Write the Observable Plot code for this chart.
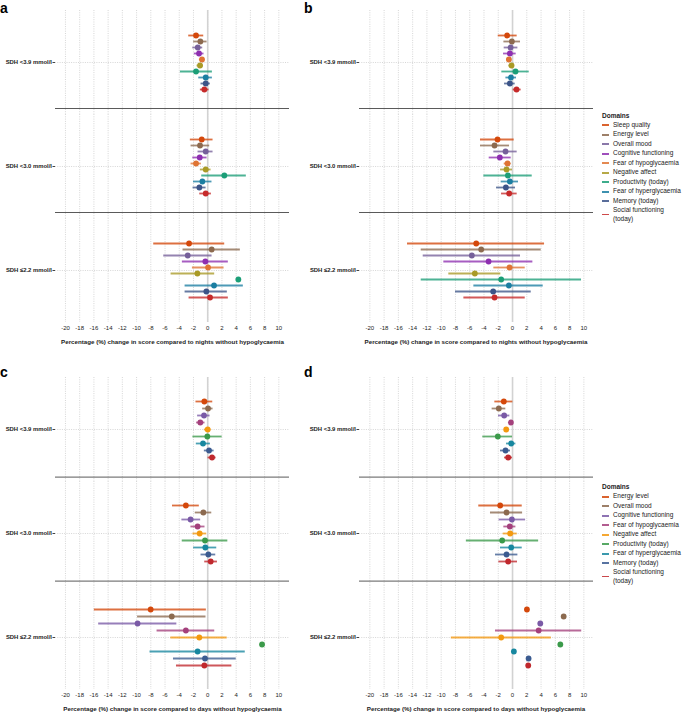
<!DOCTYPE html>
<html>
<head>
<meta charset="utf-8">
<script src="https://cdn.jsdelivr.net/npm/d3@7"></script>
<script src="https://cdn.jsdelivr.net/npm/@observablehq/plot@0.6"></script>
<style>
  html, body { margin: 0; padding: 0; background: #fff; }
  body { font-family: "Liberation Sans", Arial, sans-serif; }
  #root { position: relative; width: 684px; height: 713px; overflow: hidden; }
  .panel { position: absolute; }
  .letter { position: absolute; font-size: 14px; font-weight: bold; line-height: 16px; color: #000; }
  .xtitle { position: absolute; width: 300px; text-align: center; font-size: 6.2px; font-weight: bold; line-height: 8px; color: #222; white-space: nowrap; }
  .legend { position: absolute; font-size: 6.5px; color: #222; }
  .legend .ttl { font-weight: bold; height: 10px; line-height: 10px; }
  .legend .row { display: flex; align-items: center; min-height: 9.5px; line-height: 8.6px; }
  .legend .sw { width: 7px; height: 1.6px; margin-right: 4px; flex: none; opacity: 0.85; }
</style>
</head>
<body>
<div id="root"></div>
<script>
// ---------- data ----------
const sdhLevels = ["SDH <3.9 mmol/l", "SDH <3.0 mmol/l", "SDH \u22642.2 mmol/l"];
const xTicks = [-20, -18, -16, -14, -12, -10, -8, -6, -4, -2, 0, 2, 4, 6, 8, 10];

const domainsNight = ["Sleep quality", "Energy level", "Overall mood", "Cognitive functioning",
  "Fear of hypoglycaemia", "Negative affect", "Productivity (today)", "Fear of hyperglycaemia",
  "Memory (today)", "Social functioning (today)"];
const colorsNight = ["#d4480b", "#8c6a4f", "#76609a", "#8e2fb0", "#df7434", "#a99a26",
  "#1b9e77", "#1b7ea1", "#3c5488", "#c62a2a"];

const domainsDay = ["Energy level", "Overall mood", "Cognitive functioning", "Fear of hypoglycaemia",
  "Negative affect", "Productivity (today)", "Fear of hyperglycaemia", "Memory (today)",
  "Social functioning (today)"];
const colorsDay = ["#d4480b", "#8c6a4f", "#7a5aa6", "#a4407c", "#f3990f", "#3b9a4a",
  "#17879f", "#3b5b90", "#c0282d"];

// panel a (nights, per level rows follow domainsNight)
const aEst = [
  [-1.64, -1.03, -1.40, -1.22, -0.80, -1.08, -1.64, -0.28, -0.28, -0.47],
  [-0.84, -1.08, -0.28, -1.12, -1.64, -0.28, 2.34, -0.75, -1.17, -0.28],
  [-2.62, 0.56, -2.81, -0.33, 0.05, -1.45, 4.31, 0.89, -0.19, 0.33]];
const aLo = [
  [-2.67, -1.97, -2.10, -1.87, -1.17, -1.50, -3.84, -1.26, -0.94, -1.03],
  [-2.44, -2.34, -1.36, -2.10, -2.34, -1.03, -0.84, -2.00, -2.06, -1.12],
  [-7.59, -3.47, -6.18, -3.56, -2.15, -5.15, null, -3.18, -3.18, -2.62]];
const aHi = [
  [-0.56, -0.09, -0.70, -0.52, -0.42, -0.60, 0.66, 0.66, 0.37, 0.19],
  [0.75, 0.28, 0.75, -0.09, -0.89, 0.47, 5.43, 0.60, -0.23, 0.52],
  [2.39, 4.59, 0.61, 2.90, 2.30, 0.98, null, 5.01, 2.76, 2.90]];

// panel b (nights)
const bEst = [
  [-0.75, -0.09, -0.28, -0.37, -0.51, -0.14, 0.42, -0.23, -0.37, 0.56],
  [-2.10, -2.52, -0.98, -1.78, -0.70, -0.84, -0.65, -0.37, -0.93, -0.47],
  [-5.09, -4.39, -5.70, -3.36, -0.42, -5.28, -1.59, -0.51, -2.71, -2.52]];
const bLo = [
  [-2.00, -1.21, -1.17, -1.26, -0.84, -0.51, -1.50, -0.93, -1.12, 0.09],
  [-4.49, -4.49, -2.62, -3.27, -1.17, -1.68, -4.02, -1.59, -2.24, -1.54],
  [-14.72, -12.80, -12.52, -9.63, -2.62, -8.93, -12.80, -5.42, -7.99, -6.82]];
const bHi = [
  [0.65, 1.12, 0.75, 0.51, -0.14, 0.28, 2.34, 0.56, 0.37, 1.21],
  [0.23, -0.42, 0.65, -0.19, -0.19, 0.00, 2.76, 0.84, 0.42, 0.65],
  [4.49, 4.02, 1.12, 2.85, 1.78, -1.64, 9.67, 4.30, 2.62, 1.78]];

// panel c (days, rows follow domainsDay)
const cEst = [
  [-0.47, 0.05, -0.52, -1.04, 0.00, -0.05, -0.66, 0.19, 0.61],
  [-3.07, -0.61, -2.41, -1.42, -1.13, -0.38, -0.33, 0.09, 0.42],
  [-8.02, -5.05, -9.86, -3.07, -1.18, 7.64, -1.42, -0.38, -0.47]];
const cLo = [
  [-1.65, -0.71, -1.42, -1.56, -0.47, -2.08, -1.60, -0.47, 0.05],
  [-4.95, -1.75, -3.63, -2.36, -2.08, -3.58, -1.98, -0.94, -0.42],
  [-15.94, -9.86, -15.33, -7.12, -5.19, null, -8.11, -4.81, -4.39]];
const cHi = [
  [0.71, 0.75, 0.33, -0.38, 0.47, 2.03, 0.38, 0.90, 1.18],
  [-1.18, 0.57, -0.99, -0.38, -0.14, 2.83, 1.27, 1.13, 1.37],
  [-0.19, -0.24, -4.34, 0.99, 2.74, null, 5.28, 4.01, 3.40]];

// panel d (days)
const dEst = [
  [-1.22, -1.92, -1.17, -0.23, -0.89, -2.06, -0.19, -0.98, -0.61],
  [-1.73, -0.84, -0.09, -0.38, -0.33, -1.45, -0.19, -0.84, -0.61],
  [2.02, 7.17, 3.89, 3.66, -1.59, 6.70, 0.19, 2.25, 2.20]];
const dLo = [
  [-2.48, -2.86, -1.97, null, null, -4.17, -0.84, -1.69, -1.12],
  [-4.73, -3.09, -1.88, -1.22, -1.31, -6.47, -1.69, -2.39, -1.92],
  [null, null, null, -2.39, -8.58, null, null, null, null]];
const dHi = [
  [0.05, -0.94, -0.38, null, null, 0.00, 0.47, -0.28, 0.00],
  [1.36, 1.41, 1.83, 0.47, 0.66, 3.66, 1.36, 0.75, 0.70],
  [null, null, null, 9.70, 5.44, null, null, null, null]];

const titleNight = "Percentage (%) change in score compared to nights without hypoglycaemia";
const titleDay = "Percentage (%) change in score compared to days without hypoglycaemia";

// ---------- drawing ----------
const root = document.getElementById("root");

function panel(domains, colors, est, lo, hi, xdom, inset) {
  const rows = [];
  sdhLevels.forEach((s, i) => domains.forEach((d, j) =>
    rows.push({sdh: s, dom: d, est: est[i][j], lo: lo[i][j], hi: hi[i][j]})));
  const ci = rows.filter(r => r.lo != null && r.hi != null);
  const last = domains[domains.length - 1];
  const seps = sdhLevels.slice(0, 2).map(s => ({sdh: s, dom: last}));
  const grid = {stroke: "#c4c4c4", strokeOpacity: 1, strokeWidth: 0.7, strokeDasharray: "1,1.3"};
  return Plot.plot({
    width: 295, height: 350,
    marginLeft: 55, marginRight: 6, marginTop: 10, marginBottom: 28,
    style: {fontFamily: "'Liberation Sans', Arial, sans-serif", fontSize: "6px", background: "transparent", overflow: "visible"},
    x: {domain: xdom, axis: null},
    y: {type: "point", domain: domains, inset, axis: null},
    fy: {domain: sdhLevels, padding: 0, axis: null},
    color: {domain: domains, range: colors},
    marks: [
      Plot.gridX(xTicks, grid),
      Plot.gridFy(grid),
      Plot.ruleX([0], {stroke: "#d2d2d2", strokeWidth: 1.6}),
      Plot.axisFy({anchor: "left", label: null, tickSize: 2.5, tickPadding: 1, fill: "#222", stroke: "#444", fontSize: 5.9, fontWeight: "bold"}),
      Plot.axisX(xTicks, {anchor: "bottom", label: null, tickSize: 0, tickPadding: 3, fill: "#222", fontSize: 6, tickFormat: d => String(d)}),
      Plot.ruleY(seps, {fy: "sdh", y: "dom", dy: inset, stroke: "#5a5a5a", strokeWidth: 1}),
      Plot.ruleY(ci, {fy: "sdh", y: "dom", x1: "lo", x2: "hi", stroke: "dom", strokeWidth: 1.8, strokeOpacity: 0.78}),
      Plot.dot(rows, {fy: "sdh", y: "dom", x: "est", fill: "dom", r: 2.9})
    ]
  });
}

function place(node, left, top) {
  const div = document.createElement("div");
  div.className = "panel";
  div.style.left = left + "px";
  div.style.top = top + "px";
  div.appendChild(node);
  root.appendChild(div);
}

function addText(cls, text, left, top) {
  const div = document.createElement("div");
  div.className = cls;
  div.textContent = text;
  div.style.left = left + "px";
  div.style.top = top + "px";
  root.appendChild(div);
}

function legend(domains, colors, left, top) {
  const div = document.createElement("div");
  div.className = "legend";
  div.style.left = left + "px";
  div.style.top = top + "px";
  const t = document.createElement("div");
  t.className = "ttl";
  t.textContent = "Domains";
  div.appendChild(t);
  domains.forEach((d, i) => {
    const r = document.createElement("div");
    r.className = "row";
    const sw = document.createElement("span");
    sw.className = "sw";
    sw.style.background = colors[i];
    const tx = document.createElement("span");
    tx.innerHTML = d === "Social functioning (today)" ? "Social functioning<br>(today)" : d;
    r.appendChild(sw);
    r.appendChild(tx);
    div.appendChild(r);
  });
  root.appendChild(div);
}

const domAC = [-21.4, 11.5];
const domBD = [-21.45, 11.35];

place(panel(domainsNight, colorsNight, aEst, aLo, aHi, domAC, 19), 0, 0);
place(panel(domainsNight, colorsNight, bEst, bLo, bHi, domBD, 19), 304, 0);
place(panel(domainsDay, colorsDay, cEst, cLo, cHi, domAC, 19.6), 0, 366.5);
place(panel(domainsDay, colorsDay, dEst, dLo, dHi, domBD, 19.6), 304, 366.5);

addText("letter", "a", 0, 0);
addText("letter", "b", 304, 0);
addText("letter", "c", 0, 364);
addText("letter", "d", 304, 364);

addText("xtitle", titleNight, 172.5 - 150, 338);
addText("xtitle", titleNight, 476 - 150, 338);
addText("xtitle", titleDay, 172.5 - 150, 705);
addText("xtitle", titleDay, 476 - 150, 705);

legend(domainsNight, colorsNight, 602, 110.5);
legend(domainsDay, colorsDay, 602, 482);
</script>
</body>
</html>
